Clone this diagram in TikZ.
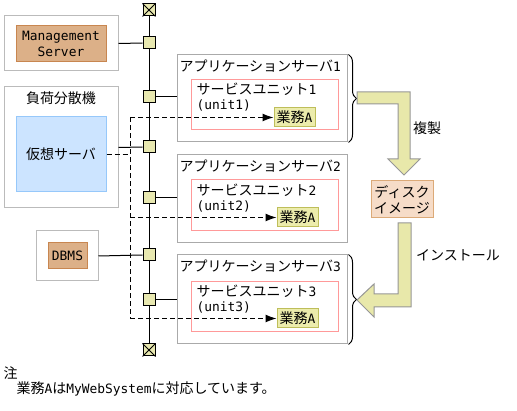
\documentclass[tikz,border=0pt]{standalone}
\usepackage{fontspec}
\setmainfont{Noto Sans CJK JP}
\newfontfamily\mylat{DejaVu Sans Mono}[Scale=0.92]
\usetikzlibrary{arrows.meta,decorations.pathreplacing}
\definecolor{busfill}{RGB}{232,232,176}
\definecolor{gafill}{RGB}{236,236,172}
\definecolor{gaedge}{RGB}{190,190,90}
\definecolor{graybox}{RGB}{187,187,187}
\definecolor{asedge}{RGB}{170,170,170}
\definecolor{pinkedge}{RGB}{255,153,153}
\definecolor{msfill}{RGB}{220,176,136}
\definecolor{msedge}{RGB}{200,134,80}
\definecolor{vsfill}{RGB}{204,228,255}
\definecolor{vsedge}{RGB}{150,200,250}
\definecolor{dkfill}{RGB}{246,220,200}
\definecolor{dkedge}{RGB}{220,170,120}
\definecolor{arfill}{RGB}{232,232,170}
\definecolor{aredge}{RGB}{150,150,150}
\begin{document}
\begin{tikzpicture}[x=1pt,y=-1pt,line width=1pt,
  every node/.style={font=\fontsize{14}{16}\selectfont, inner sep=0pt},
  outerbox/.style={draw=graybox, rectangle},
  asbox/.style={draw=asedge, rectangle, minimum width=170pt},
  subox/.style={draw=pinkedge, rectangle, minimum width=147pt},
  gabox/.style={draw=gaedge, fill=gafill, rectangle, minimum width=41pt, minimum height=19pt},
  msbox/.style={draw=msedge, fill=msfill, rectangle},
  bussq/.style={draw=black, fill=busfill, rectangle, minimum size=12pt},
  dashline/.style={dash pattern=on 5pt off 3pt},
  bigarrow/.style={draw=aredge, fill=arfill},
  bracestyle/.style={decorate, decoration={brace, amplitude=8pt}}
]
\useasboundingbox (0,0) rectangle (517,411);

% left boxes
\node[outerbox, minimum width=114pt, minimum height=55pt] (mso) at (61,43.5) {};
\node[msbox, minimum width=90pt, minimum height=36pt, align=center] (msi) at (61,44) {\mylat Management\\\mylat Server};

\node[outerbox, minimum width=114pt, minimum height=121pt] (lbo) at (61,147.5) {};
\node (lbt) at (61,98) {負荷分散機};
\node[draw=vsedge, fill=vsfill, rectangle, minimum width=90pt, minimum height=75pt] (lbi) at (61,154.5) {仮想サーバ};

\node[outerbox, minimum width=62pt, minimum height=50pt] (dbo) at (67,256) {};
\node[msbox, minimum width=39pt, minimum height=26pt] (dbi) at (67.5,256) {\mylat DBMS};

% bus
\node[bussq] (t1) at (149,10) {};
\node[bussq] (s1) at (149,43) {};
\node[bussq] (s2) at (149,97) {};
\node[bussq] (s3) at (149,147) {};
\node[bussq] (s4) at (149,198) {};
\node[bussq] (s5) at (149,255) {};
\node[bussq] (s6) at (149,300) {};
\node[bussq] (t2) at (149,350) {};
\draw (t1.north west) -- (t1.south east) (t1.north east) -- (t1.south west);
\draw (t2.north west) -- (t2.south east) (t2.north east) -- (t2.south west);
\draw (t1) -- (s1) -- (s2) -- (s3) -- (s4) -- (s5) -- (s6) -- (t2);

% application servers
\node[asbox, minimum height=87pt] (as1) at (262,98.5) {};
\node[anchor=west] (as1t) at (179,66) {アプリケーションサーバ{\mylat 1}};
\node[subox, minimum height=50pt] (su1) at (264.5,105) {};
\node[anchor=west] (su1a) at (196,89) {サービスユニット{\mylat 1}};
\node[anchor=west] (su1b) at (196,105) {\mylat (unit1)};
\node[gabox] (ga1) at (294.5,117.5) {業務{\mylat A}};

\node[asbox, minimum height=88pt] (as2) at (262,199) {};
\node[anchor=west] (as2t) at (179,166) {アプリケーションサーバ{\mylat 2}};
\node[subox, minimum height=51pt] (su2) at (264.5,205.5) {};
\node[anchor=west] (su2a) at (196,190) {サービスユニット{\mylat 2}};
\node[anchor=west] (su2b) at (196,206) {\mylat (unit2)};
\node[gabox] (ga2) at (297.5,217.5) {業務{\mylat A}};

\node[asbox, minimum height=89pt] (as3) at (262,299.5) {};
\node[anchor=west] (as3t) at (179,266) {アプリケーションサーバ{\mylat 3}};
\node[subox, minimum height=50pt] (su3) at (264.5,307) {};
\node[anchor=west] (su3a) at (196,291) {サービスユニット{\mylat 3}};
\node[anchor=west] (su3b) at (196,307) {\mylat (unit3)};
\node[gabox] (ga3) at (297.5,318.5) {業務{\mylat A}};

% connectors to bus
\draw (mso.east) -- (s1.west);
\draw (s2.east) -- (s2.east -| as1.west);
\draw (lbo.east) -- (s3.west);
\draw (s4.east) -- (s4.east -| as2.west);
\draw (dbo.east) -- (s5.west);
\draw (s6.east) -- (s6.east -| as3.west);

% dashed
\coordinate (dtop) at (130,117.5);
\coordinate (dbot) at (130,318.5);
\draw[dashline] (lbi.east) -- (lbi.east -| dtop);
\draw[dashline] (dtop) -- (dbot);
\draw[dashline, -{Latex[length=11pt,width=8pt]}] (dtop) -- (ga1.west);
\draw[dashline, -{Latex[length=11pt,width=8pt]}] (dtop |- ga2.west) -- (ga2.west);
\draw[dashline, -{Latex[length=11pt,width=8pt]}] (dbot) -- (ga3.west);

% braces
\draw[bracestyle] ([xshift=1pt]as1.north east) -- ([xshift=1pt]as1.south east);
\draw[bracestyle] ([xshift=1pt]as3.north east) -- ([xshift=1pt]as3.south east);

% disk image
\node[draw=dkedge, fill=dkfill, rectangle, minimum width=62pt, minimum height=37pt, align=center] (disk) at (402,199.5) {ディスク\\イメージ};

% big arrows
\draw[bigarrow] (357,92) -- (410,92) -- (410,159) -- (420,159) -- (404,175) -- (388,159) -- (398,159) -- (398,104) -- (357,104) -- cycle;
\draw[bigarrow] (398,223) -- (411,223) -- (411,307) -- (374,307) -- (374,317) -- (357,300) -- (374,284) -- (374,294) -- (398,294) -- cycle;
\node (cp) at (427,128) {複製};
\node (inst) at (458,255) {インストール};

% note
\node[anchor=west] (n1) at (3,373) {注};
\node[anchor=west] (n2) at (16,389) {業務{\mylat A}は{\mylat MyWebSystem}に対応しています。};
\end{tikzpicture}
\end{document}
